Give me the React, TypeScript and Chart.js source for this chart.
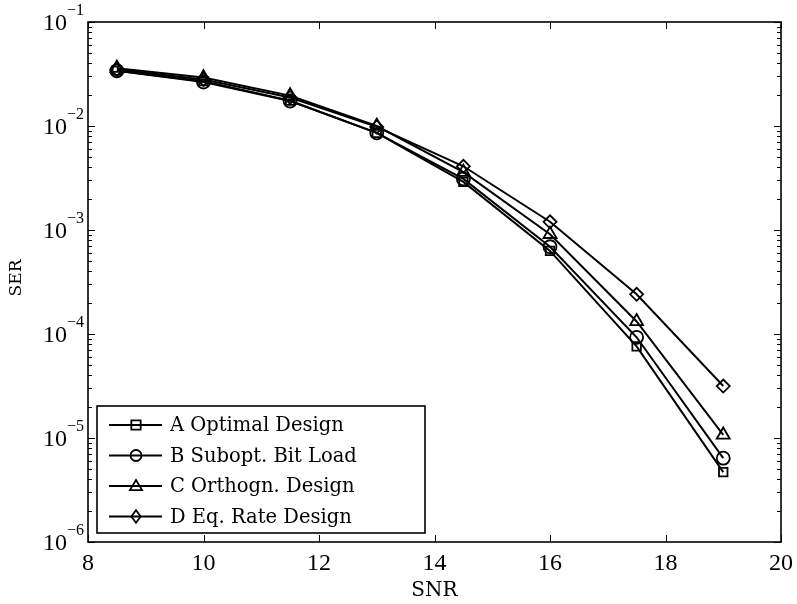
import React, { useEffect, useRef } from "react";
import { Chart, registerables } from "chart.js";

Chart.register(...registerables);

const snr = [8.5, 10, 11.5, 13, 14.5, 16, 17.5, 19];
const serA = [0.034, 0.027, 0.0175, 0.0086, 0.0029, 0.00063, 7.6e-5, 4.7e-6];
const serB = [0.034, 0.0265, 0.0174, 0.0086, 0.0031, 0.00069, 9.3e-5, 6.4e-6];
const serC = [0.036, 0.0292, 0.0196, 0.0100, 0.0036, 0.00091, 1.32e-4, 1.07e-5];
const serD = [0.035, 0.028, 0.0188, 0.0098, 0.0041, 0.0012, 2.41e-4, 3.16e-5];

const seriesNames = ["A Optimal Design", "B Subopt. Bit Load", "C Orthogn. Design", "D Eq. Rate Design"];
const seriesMarkers = ["rect", "circle", "triangle", "rectRot"];
const xTicks = [8, 10, 12, 14, 16, 18, 20];
const yExponents = [-6, -5, -4, -3, -2, -1];
const xTitle = "SNR";
const yTitle = "SER";

const TICK_FONT = '24px "Liberation Serif"';
const EXP_FONT = '16px "Liberation Serif"';
const LEGEND_FONT = '19.5px "DejaVu Serif"';

function drawMarker(ctx: CanvasRenderingContext2D, style: string, x: number, y: number, r: number) {
  ctx.beginPath();
  if (style === "rect") {
    const s = r * 0.85;
    ctx.rect(x - s, y - s, 2 * s, 2 * s);
  } else if (style === "circle") {
    ctx.arc(x, y, r, 0, Math.PI * 2);
  } else if (style === "triangle") {
    ctx.moveTo(x, y - r * 1.1);
    ctx.lineTo(x + r * 1.1, y + r * 0.75);
    ctx.lineTo(x - r * 1.1, y + r * 0.75);
    ctx.closePath();
  } else {
    ctx.moveTo(x, y - r * 1.15);
    ctx.lineTo(x + r * 0.85, y);
    ctx.lineTo(x, y + r * 1.15);
    ctx.lineTo(x - r * 0.85, y);
    ctx.closePath();
  }
  ctx.stroke();
}

const matlabPlugin = {
  id: "matlabAxes",
  afterDraw(chart: any) {
    const ctx: CanvasRenderingContext2D = chart.ctx;
    const { left, right, top, bottom } = chart.chartArea;
    const xs = chart.scales.x;
    const ys = chart.scales.y;
    ctx.save();
    ctx.strokeStyle = "#000";
    ctx.fillStyle = "#000";
    ctx.lineWidth = 1.6;
    // frame
    ctx.strokeRect(left, top, right - left, bottom - top);

    // x ticks
    ctx.lineWidth = 1;
    ctx.font = TICK_FONT;
    ctx.textAlign = "center";
    ctx.textBaseline = "middle";
    xTicks.forEach((v) => {
      const px = Math.round(xs.getPixelForValue(v)) + 0.5;
      ctx.beginPath();
      ctx.moveTo(px, bottom);
      ctx.lineTo(px, bottom - 7);
      ctx.moveTo(px, top);
      ctx.lineTo(px, top + 7);
      ctx.stroke();
      ctx.fillText(String(v), xs.getPixelForValue(v), bottom + 22);
    });

    // y ticks
    yExponents.forEach((e, i) => {
      const major = Math.pow(10, e);
      const py = Math.round(ys.getPixelForValue(major)) + 0.5;
      ctx.beginPath();
      ctx.moveTo(left, py);
      ctx.lineTo(left + 7, py);
      ctx.moveTo(right, py);
      ctx.lineTo(right - 7, py);
      ctx.stroke();
      if (i < yExponents.length - 1) {
        for (let m = 2; m <= 9; m++) {
          const my = Math.round(ys.getPixelForValue(m * major)) + 0.5;
          ctx.beginPath();
          ctx.moveTo(left, my);
          ctx.lineTo(left + 4, my);
          ctx.moveTo(right, my);
          ctx.lineTo(right - 4, my);
          ctx.stroke();
        }
      }
      // label
      ctx.font = EXP_FONT;
      const expText = "\u2212" + String(-e);
      const ew = ctx.measureText(expText).width;
      ctx.textAlign = "right";
      ctx.fillText(expText, left - 4, ys.getPixelForValue(major) - 11);
      ctx.font = TICK_FONT;
      ctx.fillText("10", left - 4 - ew, ys.getPixelForValue(major) + 2);
    });

    // axis titles
    ctx.textAlign = "center";
    ctx.textBaseline = "middle";
    ctx.font = '20px "DejaVu Serif"';
    ctx.fillText(xTitle, (left + right) / 2, 591);
    ctx.save();
    ctx.translate(17, 278);
    ctx.rotate(-Math.PI / 2);
    ctx.font = '17px "DejaVu Serif"';
    ctx.fillText(yTitle, 0, 0);
    ctx.restore();

    // legend
    const lx = left + 9;
    const ly = 406;
    const lw = 328;
    const lh = 127;
    ctx.fillStyle = "#fff";
    ctx.fillRect(lx, ly, lw, lh);
    ctx.strokeStyle = "#000";
    ctx.lineWidth = 1.6;
    ctx.strokeRect(lx, ly, lw, lh);
    ctx.fillStyle = "#000";
    ctx.font = LEGEND_FONT;
    ctx.textAlign = "left";
    seriesNames.forEach((name, i) => {
      const y = 425 + i * 30.5;
      ctx.lineWidth = 1.8;
      ctx.beginPath();
      ctx.moveTo(lx + 12, y);
      ctx.lineTo(lx + 65, y);
      ctx.stroke();
      drawMarker(ctx, seriesMarkers[i], lx + 39, y, 5.5);
      ctx.fillText(name, lx + 73, y + 1);
    });
    ctx.restore();
  },
};

export default function App() {
  const canvasRef = useRef<HTMLCanvasElement | null>(null);
  useEffect(() => {
    const canvas = canvasRef.current;
    if (!canvas) return;
    const allSeries = [serA, serB, serC, serD];
    const chart = new Chart(canvas, {
      type: "line",
      data: {
        datasets: allSeries.map((s, i) => ({
          label: seriesNames[i],
          data: snr.map((x, j) => ({ x, y: s[j] })),
          borderColor: "#000",
          borderWidth: 2,
          backgroundColor: "rgba(0,0,0,0)",
          pointStyle: seriesMarkers[i] as any,
          pointRadius: seriesMarkers[i] === "triangle" ? 7.5 : seriesMarkers[i] === "rect" ? 6 : 6.5,
          pointBorderColor: "#000",
          pointBackgroundColor: "rgba(0,0,0,0)",
          pointBorderWidth: 1.8,
          tension: 0,
          fill: false,
        })),
      },
      options: {
        responsive: false,
        animation: false,
        devicePixelRatio: 1,
        layout: { padding: { left: 88, right: 16, top: 22, bottom: 62 } },
        scales: {
          x: { type: "linear", min: 8, max: 20, display: false },
          y: { type: "logarithmic", min: 1e-6, max: 1e-1, display: false },
        },
        plugins: { legend: { display: false }, tooltip: { enabled: false } },
      },
      plugins: [matlabPlugin],
    });
    return () => chart.destroy();
  }, []);
  return (
    <div style={{ position: "fixed", left: 0, top: 0, width: 797, height: 604, background: "#fff" }}>
      <canvas ref={canvasRef} width={797} height={604} style={{ display: "block" }} />
    </div>
  );
}
